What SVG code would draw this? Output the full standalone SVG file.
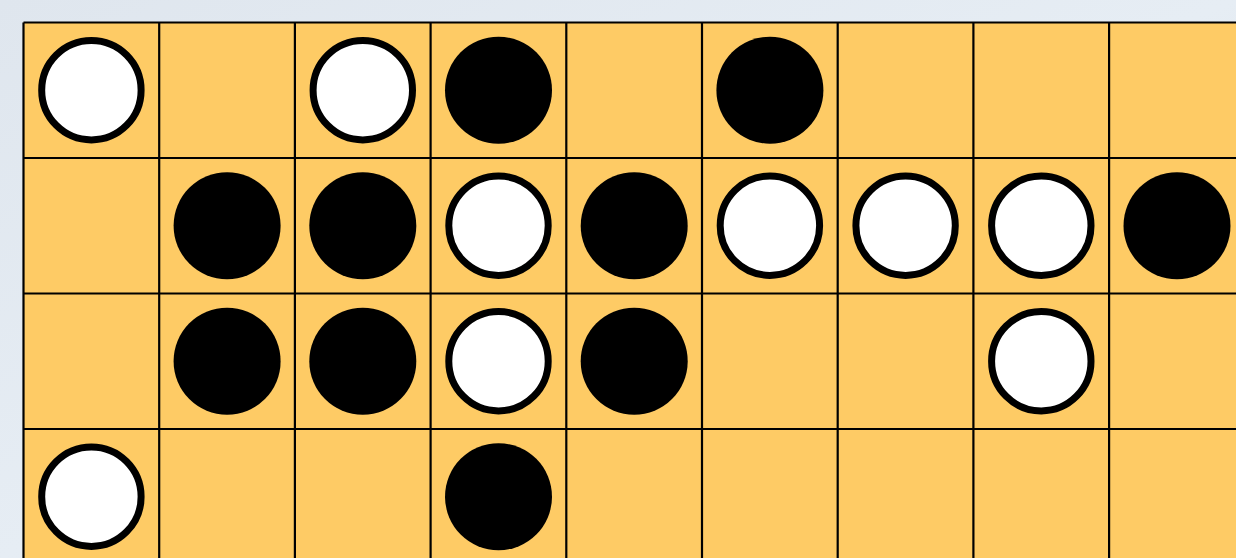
<svg xmlns="http://www.w3.org/2000/svg" xmlns:xlink="http://www.w3.org/1999/xlink" width="1236" height="558" viewBox="0 0 1236 558">
  <defs>
    <linearGradient id="bg" x1="0" y1="0" x2="1" y2="1">
      <stop offset="0" stop-color="#dfe6ee"/>
      <stop offset="0.5" stop-color="#e6edf4"/>
      <stop offset="1" stop-color="#cfdbe6"/>
    </linearGradient>
    <circle id="w" r="49.7" fill="#ffffff" stroke="#000000" stroke-width="7"/>
    <circle id="b" r="53.5" fill="#000000"/>
  </defs>
  <style>
    .grid line { stroke: #000000; stroke-width: 2.2; }
  </style>
  <rect width="1236" height="558" fill="url(#bg)"/>
  <g id="board">
    <rect x="23.5" y="22.5" width="1220" height="545" fill="#fecb65"/>
    <g class="grid">
      <line x1="23.5" y1="22.5" x2="1236" y2="22.5"/>
      <line x1="23.5" y1="158" x2="1236" y2="158"/>
      <line x1="23.5" y1="293.5" x2="1236" y2="293.5"/>
      <line x1="23.5" y1="429" x2="1236" y2="429"/>
      <line x1="23.5" y1="22.5" x2="23.5" y2="558"/>
      <line x1="159.2" y1="22.5" x2="159.2" y2="558"/>
      <line x1="294.9" y1="22.5" x2="294.9" y2="558"/>
      <line x1="430.6" y1="22.5" x2="430.6" y2="558"/>
      <line x1="566.3" y1="22.5" x2="566.3" y2="558"/>
      <line x1="702" y1="22.5" x2="702" y2="558"/>
      <line x1="837.7" y1="22.5" x2="837.7" y2="558"/>
      <line x1="973.4" y1="22.5" x2="973.4" y2="558"/>
      <line x1="1109.1" y1="22.5" x2="1109.1" y2="558"/>
    </g>
  </g>
  <g id="stones">
    <use xlink:href="#w" x="91.4" y="90.2"/>
    <use xlink:href="#w" x="362.8" y="90.2"/>
    <use xlink:href="#b" x="498.5" y="90.2"/>
    <use xlink:href="#b" x="769.9" y="90.2"/>

    <use xlink:href="#b" x="227.1" y="225.7"/>
    <use xlink:href="#b" x="362.8" y="225.7"/>
    <use xlink:href="#w" x="498.5" y="225.7"/>
    <use xlink:href="#b" x="634.2" y="225.7"/>
    <use xlink:href="#w" x="769.9" y="225.7"/>
    <use xlink:href="#w" x="905.6" y="225.7"/>
    <use xlink:href="#w" x="1041.3" y="225.7"/>
    <use xlink:href="#b" x="1177" y="225.7"/>

    <use xlink:href="#b" x="227.1" y="361.2"/>
    <use xlink:href="#b" x="362.8" y="361.2"/>
    <use xlink:href="#w" x="498.5" y="361.2"/>
    <use xlink:href="#b" x="634.2" y="361.2"/>
    <use xlink:href="#w" x="1041.3" y="361.2"/>

    <use xlink:href="#w" x="91.4" y="496.7"/>
    <use xlink:href="#b" x="498.5" y="496.7"/>
  </g>
</svg>
